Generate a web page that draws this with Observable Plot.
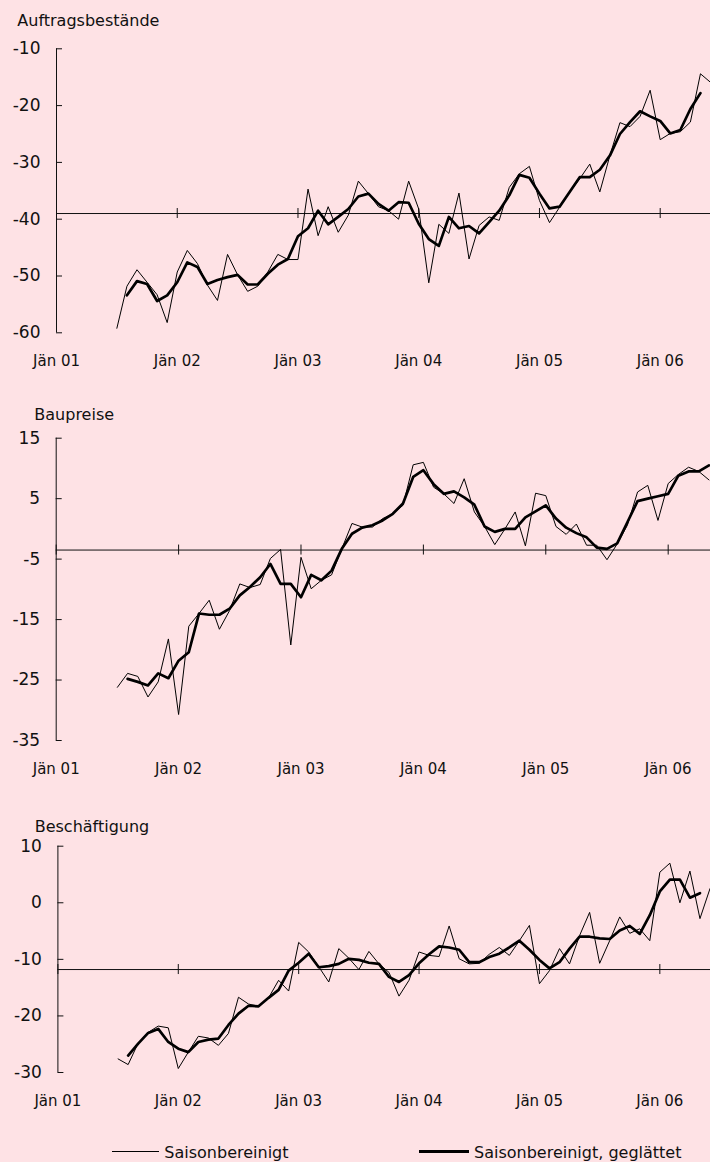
<!DOCTYPE html>
<html>
<head>
<meta charset="utf-8">
<script src="https://cdn.jsdelivr.net/npm/d3@7"></script>
<script src="https://cdn.jsdelivr.net/npm/@observablehq/plot@0.6"></script>
<style>
  html, body { margin: 0; padding: 0; background: #fee2e5; }
  #root { position: relative; width: 710px; height: 1162px; overflow: hidden; background: #fee2e5;
          font-family: "DejaVu Sans", sans-serif; color: #111; }
  .title { position: absolute; font-size: 16px; line-height: 16px; white-space: nowrap; }
  .panel { position: absolute; left: 0; }
  .legtext { position: absolute; font-size: 16px; line-height: 16px; white-space: nowrap; }
  .swatch { position: absolute; background: #000; }
</style>
</head>
<body>
<div id="root"></div>
<script>
// ---- Data ----
const yearTicks = [0, 12, 24, 36, 48, 60];            // month index, 0 = Jänner 2001
const yearLabels = ["Jän 01", "Jän 02", "Jän 03", "Jän 04", "Jän 05", "Jän 06"];
const titles = ["Auftragsbestände", "Baupreise", "Beschäftigung"];
const seriesNames = ["Saisonbereinigt", "Saisonbereinigt, geglättet"];
const rawStart = 6;     // Juli 2001
const smoothStart = 7;  // August 2001

const auftragTicks = [-60, -50, -40, -30, -20, -10];
const auftragBase = -39;
const auftragRaw = [-59.2,-51.8,-48.9,-51.1,-53.3,-58.2,-49.3,-45.5,-47.8,-51.6,
  -54.3,-46.2,-49.8,-52.7,-51.8,-49.3,-46.2,-47.1,-47.1,-34.7,
  -42.9,-37.8,-42.3,-39.3,-33.3,-35.5,-37.8,-38.5,-40.0,-33.3,
  -38.2,-51.2,-40.9,-42.5,-35.4,-47.0,-41.1,-39.6,-40.2,-34.4,
  -32.0,-30.7,-36.7,-40.6,-37.9,-35.2,-32.9,-30.3,-35.2,-28.8,
  -23.0,-23.7,-21.9,-17.3,-26.0,-24.9,-24.6,-22.9,-14.4,-15.9];
const auftragSmooth = [-53.4,-50.9,-51.4,-54.4,-53.4,-51.1,-47.6,-48.4,-51.4,-50.7,
  -50.2,-49.8,-51.5,-51.5,-49.6,-48.0,-47.0,-43.0,-41.6,-38.5,
  -40.9,-39.6,-38.2,-36.0,-35.5,-37.3,-38.5,-37.0,-37.1,-40.8,
  -43.5,-44.7,-39.6,-41.6,-41.2,-42.5,-40.5,-38.5,-35.8,-32.2,
  -32.7,-35.5,-38.1,-37.8,-35.2,-32.6,-32.6,-31.3,-28.8,-25.0,
  -22.9,-21.0,-21.9,-22.7,-24.9,-24.3,-20.6,-17.8];

const bauTicks = [-35, -25, -15, -5, 5, 15];
const bauBase = -3.5;
const bauRaw = [-26.2,-23.9,-24.4,-27.8,-25.3,-18.2,-30.7,-16.1,-14.0,-11.8,
  -16.6,-13.5,-9.1,-9.7,-9.2,-4.9,-3.4,-19.2,-4.7,-9.9,
  -8.5,-7.6,-3.3,0.9,0.3,0.3,1.7,2.5,3.9,10.6,
  11.0,6.9,5.8,4.2,8.3,2.8,0.4,-2.6,0.0,2.8,
  -2.8,5.9,5.5,0.4,-0.9,0.8,-2.7,-2.7,-5.1,-2.5,
  0.6,6.1,7.2,1.4,7.5,9.0,10.2,9.5,8.1];
const bauSmooth = [-24.8,-25.3,-25.9,-23.9,-24.7,-21.8,-20.4,-14.0,-14.2,-14.2,
  -13.2,-11.0,-9.6,-8.0,-5.8,-9.1,-9.1,-11.3,-7.6,-8.5,
  -6.9,-3.3,-0.8,0.2,0.6,1.4,2.5,4.2,8.6,9.7,
  7.4,5.8,6.2,5.2,4.0,0.4,-0.5,0.0,0.0,1.9,
  2.9,3.9,1.7,0.2,-0.7,-1.4,-3.1,-3.3,-2.4,1.1,
  4.6,5.0,5.4,5.8,8.8,9.5,9.5,10.5];

const beschTicks = [-30, -20, -10, 0, 10];
const beschBase = -11.8;
const beschRaw = [-27.6,-28.6,-24.8,-22.9,-21.8,-22.1,-29.3,-26.4,-23.6,-23.9,
  -25.2,-23.1,-16.7,-17.9,-18.3,-16.8,-13.7,-15.6,-7.0,-8.7,
  -11.3,-14.0,-8.1,-9.8,-11.8,-8.6,-10.8,-12.3,-16.5,-13.7,
  -8.7,-9.3,-9.5,-4.1,-9.9,-10.8,-10.7,-9.1,-7.9,-9.3,
  -6.7,-4.0,-14.3,-12.0,-8.1,-10.8,-5.8,-1.7,-10.7,-6.7,
  -2.5,-5.4,-4.6,-6.7,5.4,7.0,0.0,5.6,-2.8,2.5];
const beschSmooth = [-27.0,-24.9,-23.0,-22.3,-24.6,-25.8,-26.4,-24.6,-24.2,-24.0,
  -21.6,-19.6,-18.2,-18.3,-16.8,-15.4,-12.0,-10.6,-9.0,-11.4,
  -11.2,-10.8,-9.9,-10.1,-10.6,-10.8,-13.1,-14.0,-12.8,-10.7,
  -9.1,-7.7,-7.9,-8.3,-10.5,-10.5,-9.6,-9.0,-7.9,-6.7,
  -8.3,-10.1,-11.6,-10.5,-8.1,-6.0,-6.0,-6.3,-6.4,-4.9,
  -4.1,-5.5,-2.2,2.0,4.1,4.1,0.9,1.7];

// ---- Layout ----
const panels = [
  {title: titles[0], raw: auftragRaw, smooth: auftragSmooth, yTicks: auftragTicks, base: auftragBase,
   top: 0, height: 380, marginTop: 48.3, marginBottom: 47.7, marginLeft: 56, xMax: 65, titleLeft: 17.3, titleBaseline: 26},
  {title: titles[1], raw: bauRaw, smooth: bauSmooth, yTicks: bauTicks, base: bauBase,
   top: 390, height: 400, marginTop: 47.7, marginBottom: 50, marginLeft: 55.7, xMax: 64.15, titleLeft: 34.3, titleBaseline: 420.7},
  {title: titles[2], raw: beschRaw, smooth: beschSmooth, yTicks: beschTicks, base: beschBase,
   top: 800, height: 320, marginTop: 45.7, marginBottom: 48, marginLeft: 57.4, xMax: 65.05, titleLeft: 34.7, titleBaseline: 832.3}
];

const root = document.getElementById("root");
const ink = "#111";

for (const p of panels) {
  const rawData = p.raw.map((v, i) => ({m: rawStart + i, v}));
  const smoothData = p.smooth.map((v, i) => ({m: smoothStart + i, v}));
  const yMin = d3.min(p.yTicks), yMax = d3.max(p.yTicks);
  const chart = Plot.plot({
    width: 710,
    height: p.height,
    marginLeft: p.marginLeft,
    marginRight: 0,
    marginTop: p.marginTop,
    marginBottom: p.marginBottom,
    style: {background: "transparent", fontFamily: "DejaVu Sans, sans-serif", color: ink, overflow: "visible"},
    x: {domain: [0, p.xMax], label: null},
    y: {domain: [yMin, yMax], label: null},
    marks: [
      Plot.ruleY([p.base], {stroke: ink, strokeWidth: 1}),
      Plot.ruleX(yearTicks, {y1: p.base, y2: p.base, insetTop: -5, insetBottom: -5, stroke: ink, strokeWidth: 1}),
      Plot.ruleX([0], {y1: yMin, y2: yMax, stroke: ink, strokeWidth: 1}),
      Plot.ruleY(p.yTicks, {x1: 0, x2: 0, insetRight: -6, stroke: ink, strokeWidth: 1}),
      Plot.axisY({ticks: p.yTicks, tickSize: 0, tickPadding: 16, fontSize: 17, label: null, tickFormat: d => String(d)}),
      Plot.axisX({ticks: yearTicks, tickSize: 0, tickPadding: 22.5, fontSize: 15, label: null,
                  tickFormat: d => yearLabels[yearTicks.indexOf(d)]}),
      Plot.line(rawData, {x: "m", y: "v", stroke: "#000", strokeWidth: 1, strokeLinejoin: "miter", clip: true}),
      Plot.line(smoothData, {x: "m", y: "v", stroke: "#000", strokeWidth: 2.7, strokeLinejoin: "round", clip: true})
    ]
  });
  chart.classList.add("panel");
  chart.style.top = p.top + "px";
  root.appendChild(chart);

  const t = document.createElement("div");
  t.className = "title";
  t.textContent = p.title;
  t.style.left = p.titleLeft + "px";
  t.style.top = (p.titleBaseline - 13.5) + "px";
  root.appendChild(t);
}

// ---- Legend ----
const legend = [
  {name: seriesNames[0], x1: 111.7, x2: 159.3, w: 1, textLeft: 164.3},
  {name: seriesNames[1], x1: 419, x2: 469, w: 3, textLeft: 474}
];
const legendY = 1151.7, legendBaseline = 1158.3;
for (const l of legend) {
  const s = document.createElement("div");
  s.className = "swatch";
  s.style.left = l.x1 + "px";
  s.style.width = (l.x2 - l.x1) + "px";
  s.style.height = l.w + "px";
  s.style.top = (legendY - l.w / 2) + "px";
  root.appendChild(s);
  const t = document.createElement("div");
  t.className = "legtext";
  t.textContent = l.name;
  t.style.left = l.textLeft + "px";
  t.style.top = (legendBaseline - 13.5) + "px";
  root.appendChild(t);
}
</script>
</body>
</html>
